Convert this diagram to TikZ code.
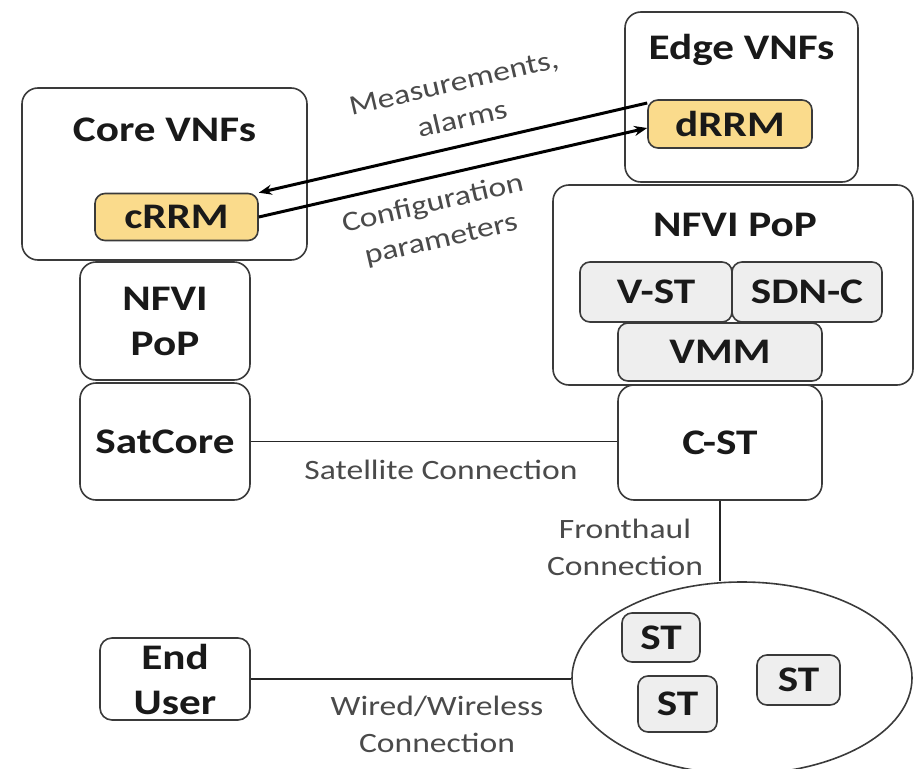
\documentclass[tikz,border=0pt]{standalone}
\usepackage{fontspec}
\setmainfont[FakeStretch=1.2]{Carlito}
\usepackage{xcolor}
\usetikzlibrary{arrows.meta,shapes.geometric}
\definecolor{edge}{HTML}{3A3A3A}
\definecolor{rrm}{HTML}{FADB8C}
\definecolor{vbox}{HTML}{EEEEEE}
\definecolor{note}{HTML}{4A4A4A}
\tikzset{
  frame/.style={draw=edge, line width=1.6pt, rounded corners=16pt, fill=white, inner sep=0pt},
  sub/.style={draw=edge, line width=1.6pt, rounded corners=10pt, fill=vbox, inner sep=0pt},
  rrmbox/.style={sub, fill=rrm},
  head/.style={font=\fontsize{36}{45}\selectfont\bfseries, text=black!90, align=center},
  link/.style={draw=black!85, line width=1.8pt},
  msg/.style={draw=black, line width=3pt, -{Stealth[length=13pt,width=10pt]}},
  lab/.style={text=note, font=\fontsize{28}{37}\selectfont, align=center},
}

\begin{document}
\begin{tikzpicture}[x=1pt,y=-1pt]
  \useasboundingbox (0,0) rectangle (915,768);

  % core side
  \node[frame,minimum width=285,minimum height=172] (core) at (164.5,174) {};
  \node[head] (coreT) at (164.5,130) {Core VNFs};
  \node[rrmbox,minimum width=163,minimum height=47,head] (cRRM) at (176.5,217) {cRRM};
  \node[frame,minimum width=170,minimum height=118,head] (nfviL) at (165,321) {NFVI\\PoP};
  \node[frame,minimum width=170,minimum height=117,head] (sat) at (165,441.5) {SatCore};

  % edge side
  \node[frame,minimum width=233,minimum height=170] (edgeV) at (741.5,97) {};
  \node[head] (edgeT) at (741.5,50) {Edge VNFs};
  \node[rrmbox,minimum width=164,minimum height=48,head] (dRRM) at (730,124) {dRRM};
  \node[frame,minimum width=360,minimum height=200] (nfviR) at (733,285) {};
  \node[head] (nfviT) at (735,225) {NFVI PoP};
  \node[sub,minimum width=152,minimum height=60,head] (vst) at (656,292) {V-ST};
  \node[sub,minimum width=150,minimum height=60,head] (sdn) at (807,292) {SDN-C};
  \node[sub,minimum width=204,minimum height=58,head] (vmm) at (720,352) {VMM};
  \node[frame,minimum width=204,minimum height=115,head] (cst) at (720,442.5) {C-ST};

  % access side
  \node[draw=edge,line width=1.6pt,ellipse,minimum width=340,minimum height=192,inner sep=0pt] (cell) at (742,678) {};
  \node[sub,minimum width=78,minimum height=49,head] (st1) at (661,637.5) {ST};
  \node[sub,minimum width=83,minimum height=50,head] (st2) at (798.5,680) {ST};
  \node[sub,minimum width=79,minimum height=56,head] (st3) at (677.5,704) {ST};
  \node[frame,rounded corners=12pt,minimum width=150,minimum height=82,head] (user) at (175,679) {End\\User};

  % connections
  \draw[link] (sat.east) -- (sat.east -| cst.west);
  \draw[link] (cst.south) -- (cst.south |- cell.north);
  \draw[link] (user.east) -- (user.east -| cell.west);
  \node[lab] (satL) at (441,470) {Satellite Connection};
  \node[lab] (fhL) at (625,547) {Fronthaul\\Connection};
  \node[lab] (wwL) at (437,724) {Wired/Wireless\\Connection};

  % RRM signalling
  \draw[msg] ([yshift=21pt]dRRM.west) -- (cRRM.north east);
  \draw[msg] (cRRM.east) -- ([yshift=-4pt]dRRM.west);
  \node[lab,rotate=13] (measL) at (458,101) {Measurements,\\alarms};
  \node[lab,rotate=13] (confL) at (437,222) {Configuration\\parameters};
\end{tikzpicture}
\end{document}
